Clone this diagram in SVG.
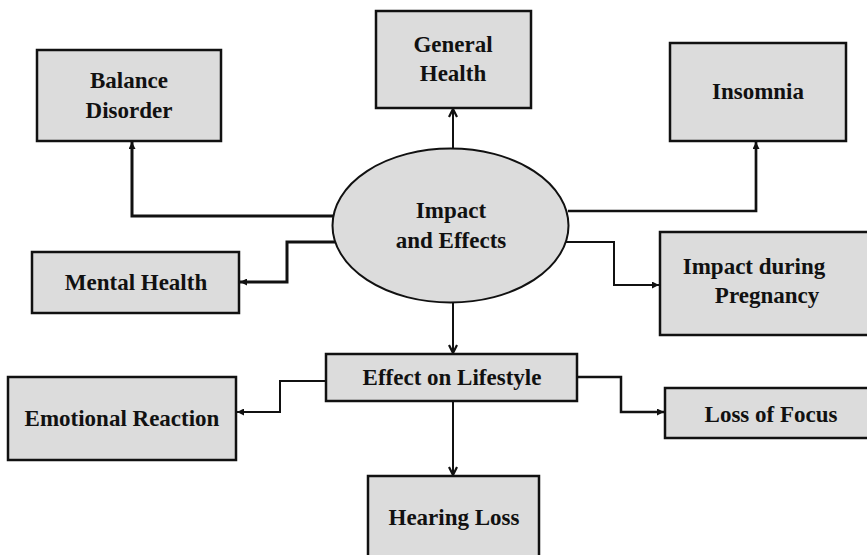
<svg xmlns="http://www.w3.org/2000/svg" width="867" height="555" viewBox="0 0 867 555">
<style>
.box{fill:#dcdcdc;stroke:#111;stroke-width:2.5}
.lbl{font-family:"Liberation Serif","Times New Roman",serif;font-weight:bold;font-size:23px;fill:#111;text-anchor:middle}
.c{fill:none;stroke:#111;stroke-linejoin:miter}
</style>
<defs>
<marker id="tri" viewBox="0 0 10 10" refX="10" refY="5" markerWidth="8" markerHeight="7" markerUnits="userSpaceOnUse" orient="auto">
<path d="M0,0 L10,5 L0,10 z" fill="#111"/>
</marker>
<marker id="chev" viewBox="0 0 10 10" refX="9" refY="5" markerWidth="10" markerHeight="10" markerUnits="userSpaceOnUse" orient="auto">
<path d="M1,1 L9,5 L1,9" fill="none" stroke="#111" stroke-width="2.2"/>
</marker>
</defs>
<rect width="867" height="555" fill="#fff"/>
<g id="connectors">
<path class="c" style="stroke-width:3" d="M333,216 H132 V142" marker-end="url(#tri)"/>
<path class="c" style="stroke-width:3" d="M336,242 H287 V282 H240" marker-end="url(#tri)"/>
<path class="c" style="stroke-width:2" d="M453,148 V109" marker-end="url(#chev)"/>
<path class="c" style="stroke-width:2.7" d="M568,211 H756 V142" marker-end="url(#tri)"/>
<path class="c" style="stroke-width:2" d="M566,242 H614 V285 H659" marker-end="url(#tri)"/>
<path class="c" style="stroke-width:2" d="M453,303 V353" marker-end="url(#chev)"/>
<path class="c" style="stroke-width:2" d="M326,381 H280 V412 H237" marker-end="url(#tri)"/>
<path class="c" style="stroke-width:2.5" d="M577,377 H621 V412 H664" marker-end="url(#tri)"/>
<path class="c" style="stroke-width:2" d="M453,401 V475" marker-end="url(#chev)"/>
</g>
<g id="impact">
<ellipse cx="450.5" cy="225.5" rx="118" ry="77" fill="#dcdcdc" stroke="#111" stroke-width="2"/>
<text class="lbl" x="451" y="218">Impact</text>
<text class="lbl" x="451" y="248">and Effects</text>
</g>
<g id="balance">
<rect class="box" x="37" y="50" width="184" height="91"/>
<text class="lbl" x="129" y="88">Balance</text>
<text class="lbl" x="129" y="118">Disorder</text>
</g>
<g id="general">
<rect class="box" x="376" y="11" width="155" height="97"/>
<text class="lbl" x="453" y="52">General</text>
<text class="lbl" x="453" y="81">Health</text>
</g>
<g id="insomnia">
<rect class="box" x="670" y="43" width="176" height="98"/>
<text class="lbl" x="758" y="99">Insomnia</text>
</g>
<g id="mental">
<rect class="box" x="32" y="252" width="207" height="61"/>
<text class="lbl" x="136" y="290">Mental Health</text>
</g>
<g id="pregnancy">
<rect class="box" x="660" y="232" width="220" height="103"/>
<text class="lbl" x="754" y="274">Impact during</text>
<text class="lbl" x="767" y="303">Pregnancy</text>
</g>
<g id="lifestyle">
<rect class="box" x="326" y="354" width="251" height="47"/>
<text class="lbl" x="452" y="385">Effect on Lifestyle</text>
</g>
<g id="emotional">
<rect class="box" x="8" y="377" width="228" height="83"/>
<text class="lbl" x="122" y="426">Emotional Reaction</text>
</g>
<g id="focus">
<rect class="box" x="665" y="388" width="215" height="50"/>
<text class="lbl" x="771" y="422">Loss of Focus</text>
</g>
<g id="hearing">
<rect class="box" x="368" y="476" width="171" height="95"/>
<text class="lbl" x="454" y="525">Hearing Loss</text>
</g>
</svg>
